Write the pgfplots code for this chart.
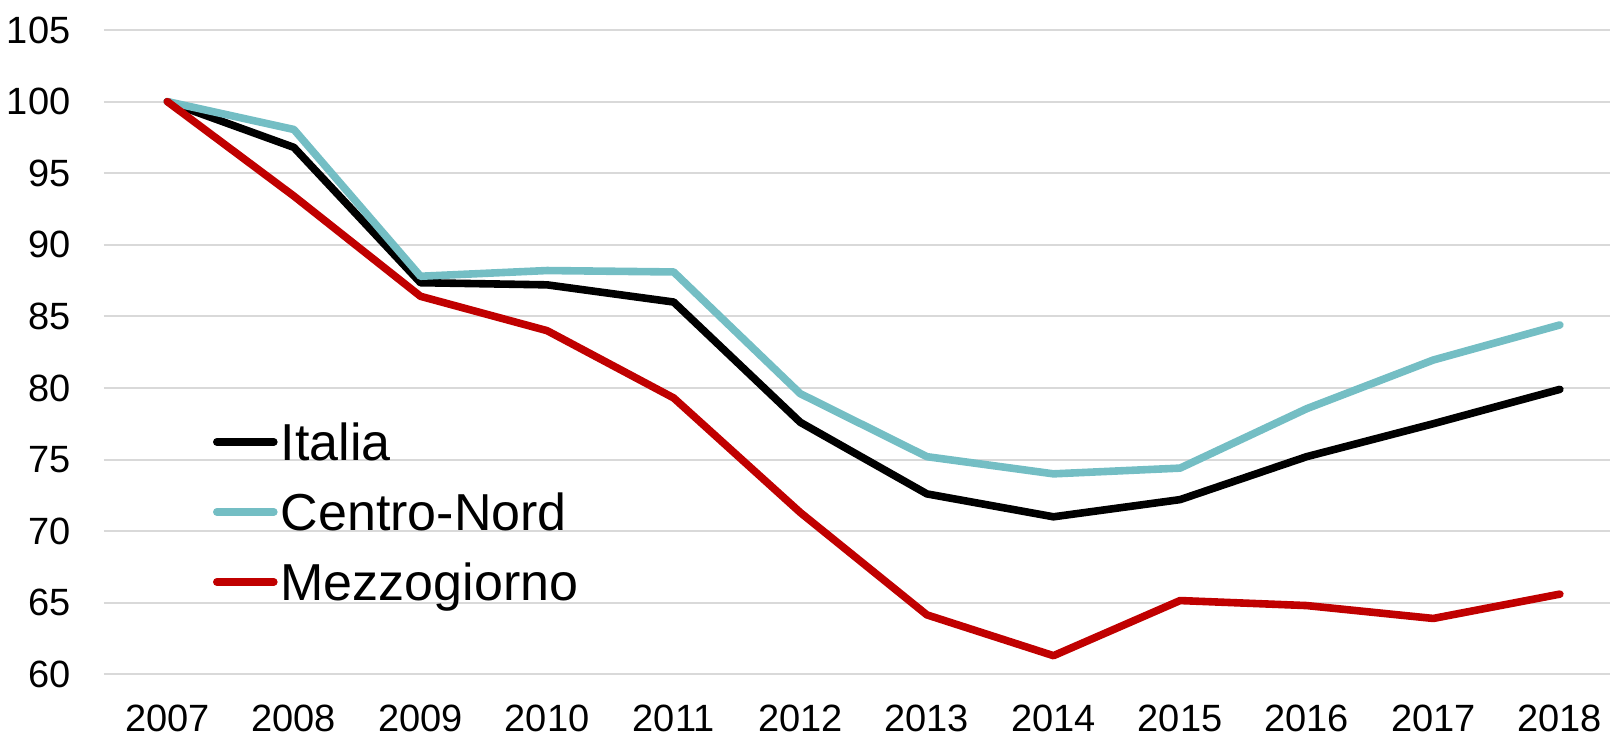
\documentclass[border=0pt]{standalone}
\usepackage{fontspec}
\setmainfont{Liberation Sans}
\usepackage{pgfplots}
\pgfplotsset{compat=1.18}
\definecolor{cn}{RGB}{116,190,196}
\definecolor{mz}{RGB}{192,0,0}
\definecolor{gridc}{RGB}{217,217,217}
\begin{document}
\begin{tikzpicture}
\begin{axis}[
  scale only axis, width=753pt, height=322.15pt,
  xmin=2006.5, xmax=2018.396, ymin=60, ymax=105,
  xtick={2007,2008,...,2018}, ytick={60,65,...,105},
  axis line style={draw=none}, major tick length=0pt,
  ymajorgrids, grid style={gridc, line width=1pt},
  /pgf/number format/1000 sep={},
  /pgf/number format/assume math mode=true,
  ticklabel style={font=\fontsize{19}{22}\selectfont, inner sep=0pt},
  yticklabel style={anchor=east, xshift=-16.6pt},
  xticklabel style={anchor=north, yshift=-15pt},
  legend style={draw=none, fill=none, at={(0.0724,0.3975)}, anchor=north west,
    inner sep=0pt, outer sep=0pt, row sep=11.2pt, column sep=1.5pt,
    font=\fontsize{26}{30}\selectfont,
    nodes={inner sep=0pt, text height=21pt, text depth=2.8pt}},
  legend cell align=left,
  legend image code/.code={\draw[#1, line cap=round] (0pt,0pt) -- (28.5pt,0pt);},
  every axis plot/.append style={line width=3.8pt, line cap=round, line join=round, mark=none},
]
\addplot[black] coordinates {(2007,100) (2008,96.8) (2009,87.35) (2010,87.2) (2011,86.0) (2012,77.6) (2013,72.6) (2014,71.0) (2015,72.2) (2016,75.2) (2017,77.5) (2018,79.9)};
\addlegendentry{Italia}
\addplot[cn] coordinates {(2007,100) (2008,98.05) (2009,87.8) (2010,88.2) (2011,88.1) (2012,79.6) (2013,75.2) (2014,74.0) (2015,74.4) (2016,78.55) (2017,81.95) (2018,84.4)};
\addlegendentry{Centro-Nord}
\addplot[mz] coordinates {(2007,100) (2008,93.4) (2009,86.4) (2010,84.0) (2011,79.3) (2012,71.3) (2013,64.15) (2014,61.3) (2015,65.15) (2016,64.8) (2017,63.9) (2018,65.6)};
\addlegendentry{Mezzogiorno}
\end{axis}
\pgfresetboundingbox
\path[use as bounding box] (-52pt,-31.35pt) rectangle (753pt,337.15pt);
\end{tikzpicture}
\end{document}
